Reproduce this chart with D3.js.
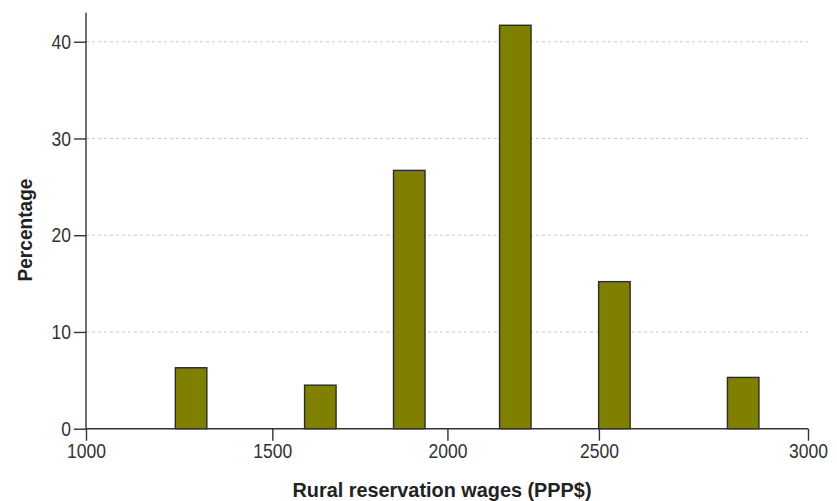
<!DOCTYPE html>
<html>
<head>
    <script src="https://d3js.org/d3.v7.min.js"></script>
    <style>
        body { margin: 0; background: #fff; }
        text { font-family: "Liberation Sans", Arial, sans-serif; fill: #333; }
    </style>
</head>
<body>
    <script>
        // Histogram bars: bin centre (PPP$) and share of workers (%)
        var wageBins = [1282, 1637, 1891, 2224, 2537, 2845];
        var percentages = [6.3, 4.5, 26.7, 41.7, 15.2, 5.3];

        // Axis ticks
        var xTickValues = [1000, 1500, 2000, 2500, 3000];
        var yTickValues = [0, 10, 20, 30, 40];

        var xTitle = "Rural reservation wages (PPP$)";
        var yTitle = "Percentage";

        var W = 837, H = 501;
        var margin = { top: 12.7, right: 29, bottom: 72.3, left: 86 };
        var width = W - margin.left - margin.right,
            height = H - margin.top - margin.bottom;

        // the original axis is not evenly spaced, so the ticks sit at these fractions of the width
        var xBreaks = [0, 0.2581, 0.5006, 0.7104, 1];

        var x = d3.scaleLinear()
            .domain(xTickValues)
            .range(xBreaks.map(function (f) { return f * width; }));

        var y = d3.scaleLinear()
            .domain([0, 43])
            .range([height, 0]);

        var barWidth = 31.5;
        var digitWidth = 9.75; // condensed look: squeeze the labels

        var svg = d3.select("body")
            .append("svg")
            .attr("width", W)
            .attr("height", H);

        var g = svg.append("g")
            .attr("transform", "translate(" + margin.left + "," + margin.top + ")");

        // dashed gridlines
        g.selectAll(".grid")
            .data(yTickValues.filter(function (d) { return d > 0; }))
            .enter()
            .append("line")
            .attr("x1", 0)
            .attr("x2", width)
            .attr("y1", function (d) { return y(d); })
            .attr("y2", function (d) { return y(d); })
            .style("stroke", "#c8c8c8")
            .style("stroke-width", 1)
            .style("stroke-dasharray", "3,3");

        // bars
        g.selectAll(".bar")
            .data(wageBins)
            .enter()
            .append("rect")
            .attr("x", function (d) { return x(d) - barWidth / 2; })
            .attr("y", function (d, i) { return y(percentages[i]); })
            .attr("width", barWidth)
            .attr("height", function (d, i) { return height - y(percentages[i]); })
            .style("fill", "#808000")
            .style("stroke", "#2b2b2b")
            .style("stroke-width", 1.4);

        // x axis
        var xAxis = g.append("g")
            .attr("transform", "translate(0," + height + ")")
            .call(d3.axisBottom(x).tickValues(xTickValues).tickSize(12).tickPadding(3).tickFormat(d3.format("d")));

        // y axis
        var yAxis = g.append("g")
            .call(d3.axisLeft(y).tickValues(yTickValues).tickSize(12).tickPadding(3));

        [xAxis, yAxis].forEach(function (ax) {
            ax.select(".domain").remove();
            ax.selectAll("line").style("stroke", "#333").style("stroke-width", 1.4);
            ax.selectAll("text")
                .attr("font-family", null)
                .style("font-family", "'Liberation Sans', Arial, sans-serif")
                .style("font-size", "20.5px")
                .style("fill", "#333")
                .attr("textLength", function () { return this.textContent.length * digitWidth; })
                .attr("lengthAdjust", "spacingAndGlyphs");
        });

        // axis lines
        g.append("line")
            .attr("x1", 0).attr("x2", width)
            .attr("y1", height).attr("y2", height)
            .style("stroke", "#333").style("stroke-width", 1.4);
        g.append("line")
            .attr("x1", 0).attr("x2", 0)
            .attr("y1", 0).attr("y2", height)
            .style("stroke", "#333").style("stroke-width", 1.4);

        // titles
        svg.append("text")
            .attr("x", 442)
            .attr("y", 497.3)
            .attr("text-anchor", "middle")
            .attr("textLength", 299)
            .attr("lengthAdjust", "spacingAndGlyphs")
            .style("font-size", "21px")
            .style("font-weight", "bold")
            .style("fill", "#222")
            .text(xTitle);

        svg.append("text")
            .attr("transform", "translate(32,230) rotate(-90)")
            .attr("text-anchor", "middle")
            .attr("textLength", 103)
            .attr("lengthAdjust", "spacingAndGlyphs")
            .style("font-size", "21px")
            .style("font-weight", "bold")
            .style("fill", "#222")
            .text(yTitle);
    </script>
</body>
</html>
